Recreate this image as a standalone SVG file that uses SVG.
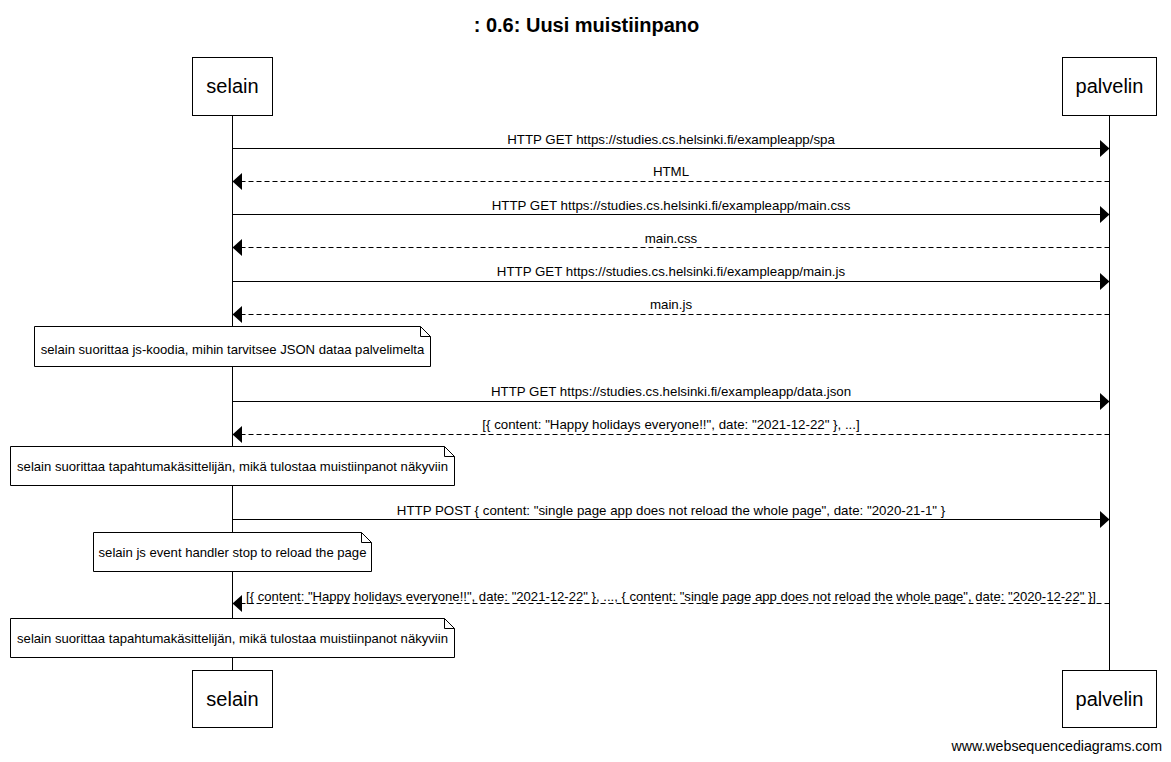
<svg xmlns="http://www.w3.org/2000/svg" width="1171" height="762" viewBox="0 0 1171 762">
<style>
text{font-family:"Liberation Sans",Arial,sans-serif;fill:#000}
.box{fill:#fff;stroke:#000;stroke-width:1}
.pt{font-size:20px;text-anchor:middle}
.lbl{font-size:13.3px;text-anchor:middle}
.nt{font-size:13.1px;text-anchor:middle}
.life{stroke:#000;stroke-width:1}
.msg{stroke:#000;stroke-width:1;fill:none}
.dash{stroke-dasharray:5,3}
.head{fill:#000}
.note{fill:#fff;stroke:#000;stroke-width:1}
</style>
<rect width="1171" height="762" fill="#fff"/>
<text x="586.5" y="32" style="font-size:20px;font-weight:bold;text-anchor:middle">: 0.6: Uusi muistiinpano</text>
<g id="lifelines">
<line class="life" x1="232.5" y1="115" x2="232.5" y2="670"/>
<line class="life" x1="1109.5" y1="115" x2="1109.5" y2="670"/>
</g>
<g id="selain-top"><rect class="box" x="192.5" y="57.5" width="80" height="58"/><text class="pt" x="232.5" y="93">selain</text></g>
<g id="palvelin-top"><rect class="box" x="1062.5" y="57.5" width="94" height="58"/><text class="pt" x="1109.5" y="93">palvelin</text></g>
<g id="selain-bottom"><rect class="box" x="192.5" y="670.5" width="80" height="57"/><text class="pt" x="232.5" y="706">selain</text></g>
<g id="palvelin-bottom"><rect class="box" x="1062.5" y="670.5" width="94" height="57"/><text class="pt" x="1109.5" y="706">palvelin</text></g>
<g id="connectors">
<line class="msg" x1="232.5" y1="148.5" x2="1101" y2="148.5"/><polygon class="head" points="1109.5,148.5 1100,140 1100,157"/>
<text class="lbl" x="671" y="143.5">HTTP GET https://studies.cs.helsinki.fi/exampleapp/spa</text>
<line class="msg dash" x1="1109.5" y1="181.5" x2="241" y2="181.5"/><polygon class="head" points="232.5,181.5 242,173 242,190"/>
<text class="lbl" x="671" y="176">HTML</text>
<line class="msg" x1="232.5" y1="214.5" x2="1101" y2="214.5"/><polygon class="head" points="1109.5,214.5 1100,206 1100,223"/>
<text class="lbl" x="671" y="209.5">HTTP GET https://studies.cs.helsinki.fi/exampleapp/main.css</text>
<line class="msg dash" x1="1109.5" y1="247.5" x2="241" y2="247.5"/><polygon class="head" points="232.5,247.5 242,239 242,256"/>
<text class="lbl" x="671" y="242.5">main.css</text>
<line class="msg" x1="232.5" y1="281.5" x2="1101" y2="281.5"/><polygon class="head" points="1109.5,281.5 1100,273 1100,290"/>
<text class="lbl" x="671" y="276">HTTP GET https://studies.cs.helsinki.fi/exampleapp/main.js</text>
<line class="msg dash" x1="1109.5" y1="314.5" x2="241" y2="314.5"/><polygon class="head" points="232.5,314.5 242,306 242,323"/>
<text class="lbl" x="671" y="309">main.js</text>
<line class="msg" x1="232.5" y1="401.5" x2="1101" y2="401.5"/><polygon class="head" points="1109.5,401.5 1100,393 1100,410"/>
<text class="lbl" x="671" y="396">HTTP GET https://studies.cs.helsinki.fi/exampleapp/data.json</text>
<line class="msg dash" x1="1109.5" y1="434.5" x2="241" y2="434.5"/><polygon class="head" points="232.5,434.5 242,426 242,443"/>
<text class="lbl" x="671" y="429">[{ content: "Happy holidays everyone!!", date: "2021-12-22" }, ...]</text>
<line class="msg" x1="232.5" y1="519.5" x2="1101" y2="519.5"/><polygon class="head" points="1109.5,519.5 1100,511 1100,528"/>
<text class="lbl" x="671" y="514.5">HTTP POST { content: "single page app does not reload the whole page", date: "2020-21-1" }</text>
<line class="msg dash" x1="1109.5" y1="603.5" x2="241" y2="603.5"/><polygon class="head" points="232.5,603.5 242,595 242,612"/>
<text class="lbl" x="671" y="600.5" textLength="850" lengthAdjust="spacingAndGlyphs">[{ content: "Happy holidays everyone!!", date: "2021-12-22" }, ..., { content: "single page app does not reload the whole page", date: "2020-12-22" }]</text>
</g>
<g id="note1"><path class="note" d="M34.5,326.5 H420.5 L430.5,336.5 V366.5 H34.5 Z M420.5,326.5 V336.5 H430.5"/><text class="nt" x="232.5" y="354">selain suorittaa js-koodia, mihin tarvitsee JSON dataa palvelimelta</text></g>
<g id="note2"><path class="note" d="M10.5,446.5 H444.5 L454.5,456.5 V485.5 H10.5 Z M444.5,446.5 V456.5 H454.5"/><text class="nt" x="232.5" y="471">selain suorittaa tapahtumakäsittelijän, mikä tulostaa muistiinpanot näkyviin</text></g>
<g id="note3"><path class="note" d="M93.5,532.5 H361.5 L371.5,542.5 V571.5 H93.5 Z M361.5,532.5 V542.5 H371.5"/><text class="nt" x="232.5" y="557">selain js event handler stop to reload the page</text></g>
<g id="note4"><path class="note" d="M10.5,618.5 H444.5 L454.5,628.5 V657.5 H10.5 Z M444.5,618.5 V628.5 H454.5"/><text class="nt" x="232.5" y="643">selain suorittaa tapahtumakäsittelijän, mikä tulostaa muistiinpanot näkyviin</text></g>
<text x="1162" y="751" style="font-size:14.2px;text-anchor:end">www.websequencediagrams.com</text>
</svg>
